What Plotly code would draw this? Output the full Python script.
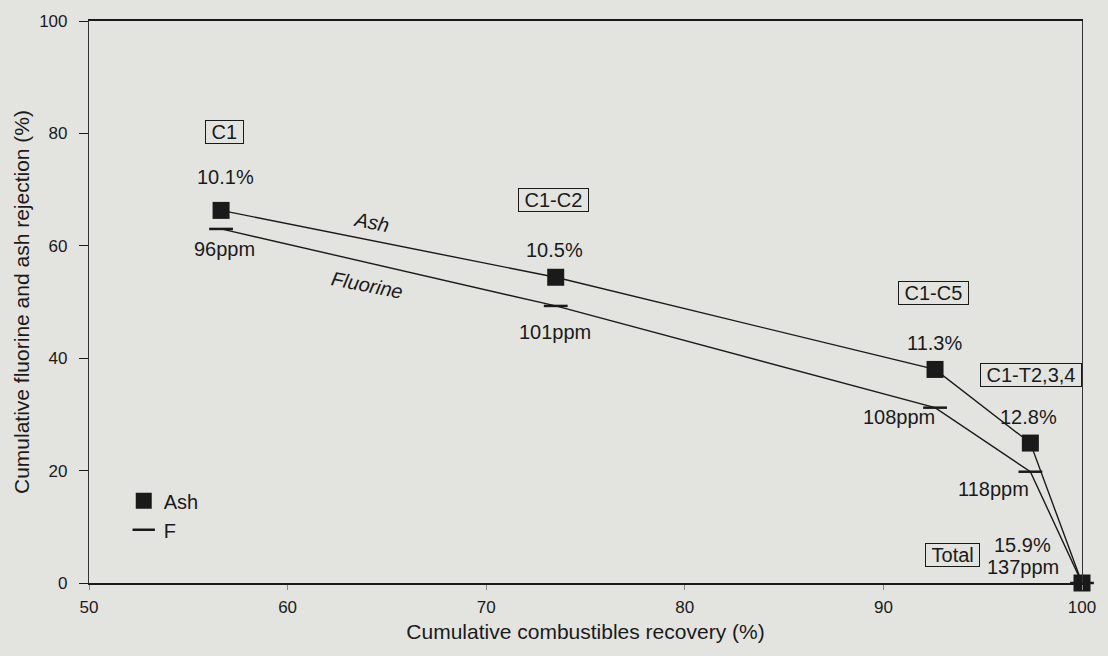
import plotly.graph_objects as go

# Data
stages = ["C1", "C1-C2", "C1-C5", "C1-T2,3,4", "Total"]
recovery = [56.65, 73.5, 92.6, 97.4, 100.0]
ash_rejection = [66.3, 54.4, 38.0, 24.9, 0.0]
f_rejection = [63.0, 49.3, 31.2, 19.8, 0.0]
ash_content = ["10.1%", "10.5%", "11.3%", "12.8%", "15.9%"]
f_content = ["96ppm", "101ppm", "108ppm", "118ppm", "137ppm"]

# label positions (data coords) for annotations
stage_pos = [(56.8, 80.3), (73.4, 68.1), (92.5, 51.6), (97.45, 37.0), (93.46, 5.0)]
ash_pos = [(56.85, 72.2), (73.45, 59.2), (92.55, 42.7), (97.3, 29.6), (97.0, 6.8)]
f_pos = [(56.8, 59.5), (73.45, 44.7), (90.8, 29.5), (95.55, 16.8), (97.05, 2.8)]

BG = "#e3e4e0"
FONT = "Liberation Sans, Arial, sans-serif"
INK = "#1a1a1a"
AFS = 20

fig = go.Figure()

fig.add_trace(go.Scatter(x=recovery, y=ash_rejection, mode="lines",
                         line=dict(color=INK, width=1.4), showlegend=False, hoverinfo="skip",
                         cliponaxis=False))
fig.add_trace(go.Scatter(x=recovery, y=f_rejection, mode="lines",
                         line=dict(color=INK, width=1.4), showlegend=False, hoverinfo="skip",
                         cliponaxis=False))
fig.add_trace(go.Scatter(x=recovery, y=ash_rejection, mode="markers", name="Ash",
                         cliponaxis=False,
                         marker=dict(symbol="square", size=17, color=INK,
                                     line=dict(width=0))))
fig.add_trace(go.Scatter(x=recovery, y=f_rejection, mode="markers", name="F",
                         cliponaxis=False,
                         marker=dict(symbol="line-ew", size=17, color=INK,
                                     line=dict(width=2.5, color=INK))))

annotations = []
for s, (x, y) in zip(stages, stage_pos):
    annotations.append(dict(x=x, y=y, xref="x", yref="y", text="&nbsp;" + s + "&nbsp;",
                            showarrow=False,
                            font=dict(size=AFS, color=INK, family=FONT),
                            bordercolor=INK, borderwidth=1, borderpad=0, bgcolor=BG))
for t, (x, y) in zip(ash_content, ash_pos):
    annotations.append(dict(x=x, y=y, xref="x", yref="y", text=t, showarrow=False,
                            font=dict(size=AFS, color=INK, family=FONT)))
for t, (x, y) in zip(f_content, f_pos):
    annotations.append(dict(x=x, y=y, xref="x", yref="y", text=t, showarrow=False,
                            font=dict(size=AFS, color=INK, family=FONT)))
annotations.append(dict(x=64.2, y=64.3, xref="x", yref="y", text="<i>Ash</i>",
                        showarrow=False, textangle=11,
                        font=dict(size=AFS, color=INK, family=FONT)))
annotations.append(dict(x=64.0, y=53.0, xref="x", yref="y", text="<i>Fluorine</i>",
                        showarrow=False, textangle=11,
                        font=dict(size=AFS, color=INK, family=FONT)))

fig.update_layout(
    width=1108, height=656,
    margin=dict(l=89, r=22, t=16, b=73),
    paper_bgcolor=BG, plot_bgcolor=BG,
    font=dict(family=FONT, size=17, color=INK),
    annotations=annotations,
    legend=dict(x=0.035, y=0.181, xanchor="left", yanchor="top",
                bgcolor="rgba(0,0,0,0)", font=dict(size=20, family=FONT, color=INK),
                itemwidth=30, tracegroupgap=0),
    xaxis=dict(range=[50, 100], tickvals=[50, 60, 70, 80, 90, 100],
               showgrid=False, zeroline=False, showline=True, linewidth=2,
               linecolor=INK, mirror=True, ticks="outside", ticklen=5,
               tickcolor="#888", tickfont=dict(size=17, color=INK),
               ticklabelstandoff=3,
               title=dict(text="Cumulative combustibles recovery (%)",
                          font=dict(size=21, color=INK), standoff=8)),
    yaxis=dict(range=[0, 100], tickvals=[0, 20, 40, 60, 80, 100],
               showgrid=False, zeroline=False, showline=True, linewidth=1.2,
               linecolor="#333", mirror=True, ticks="outside", ticklen=9,
               tickcolor=INK, tickfont=dict(size=17, color=INK),
               ticklabelstandoff=8,
               title=dict(text="Cumulative fluorine and ash rejection (%)",
                          font=dict(size=21, color=INK), standoff=3)),
)

fig.write_html("out.html")
